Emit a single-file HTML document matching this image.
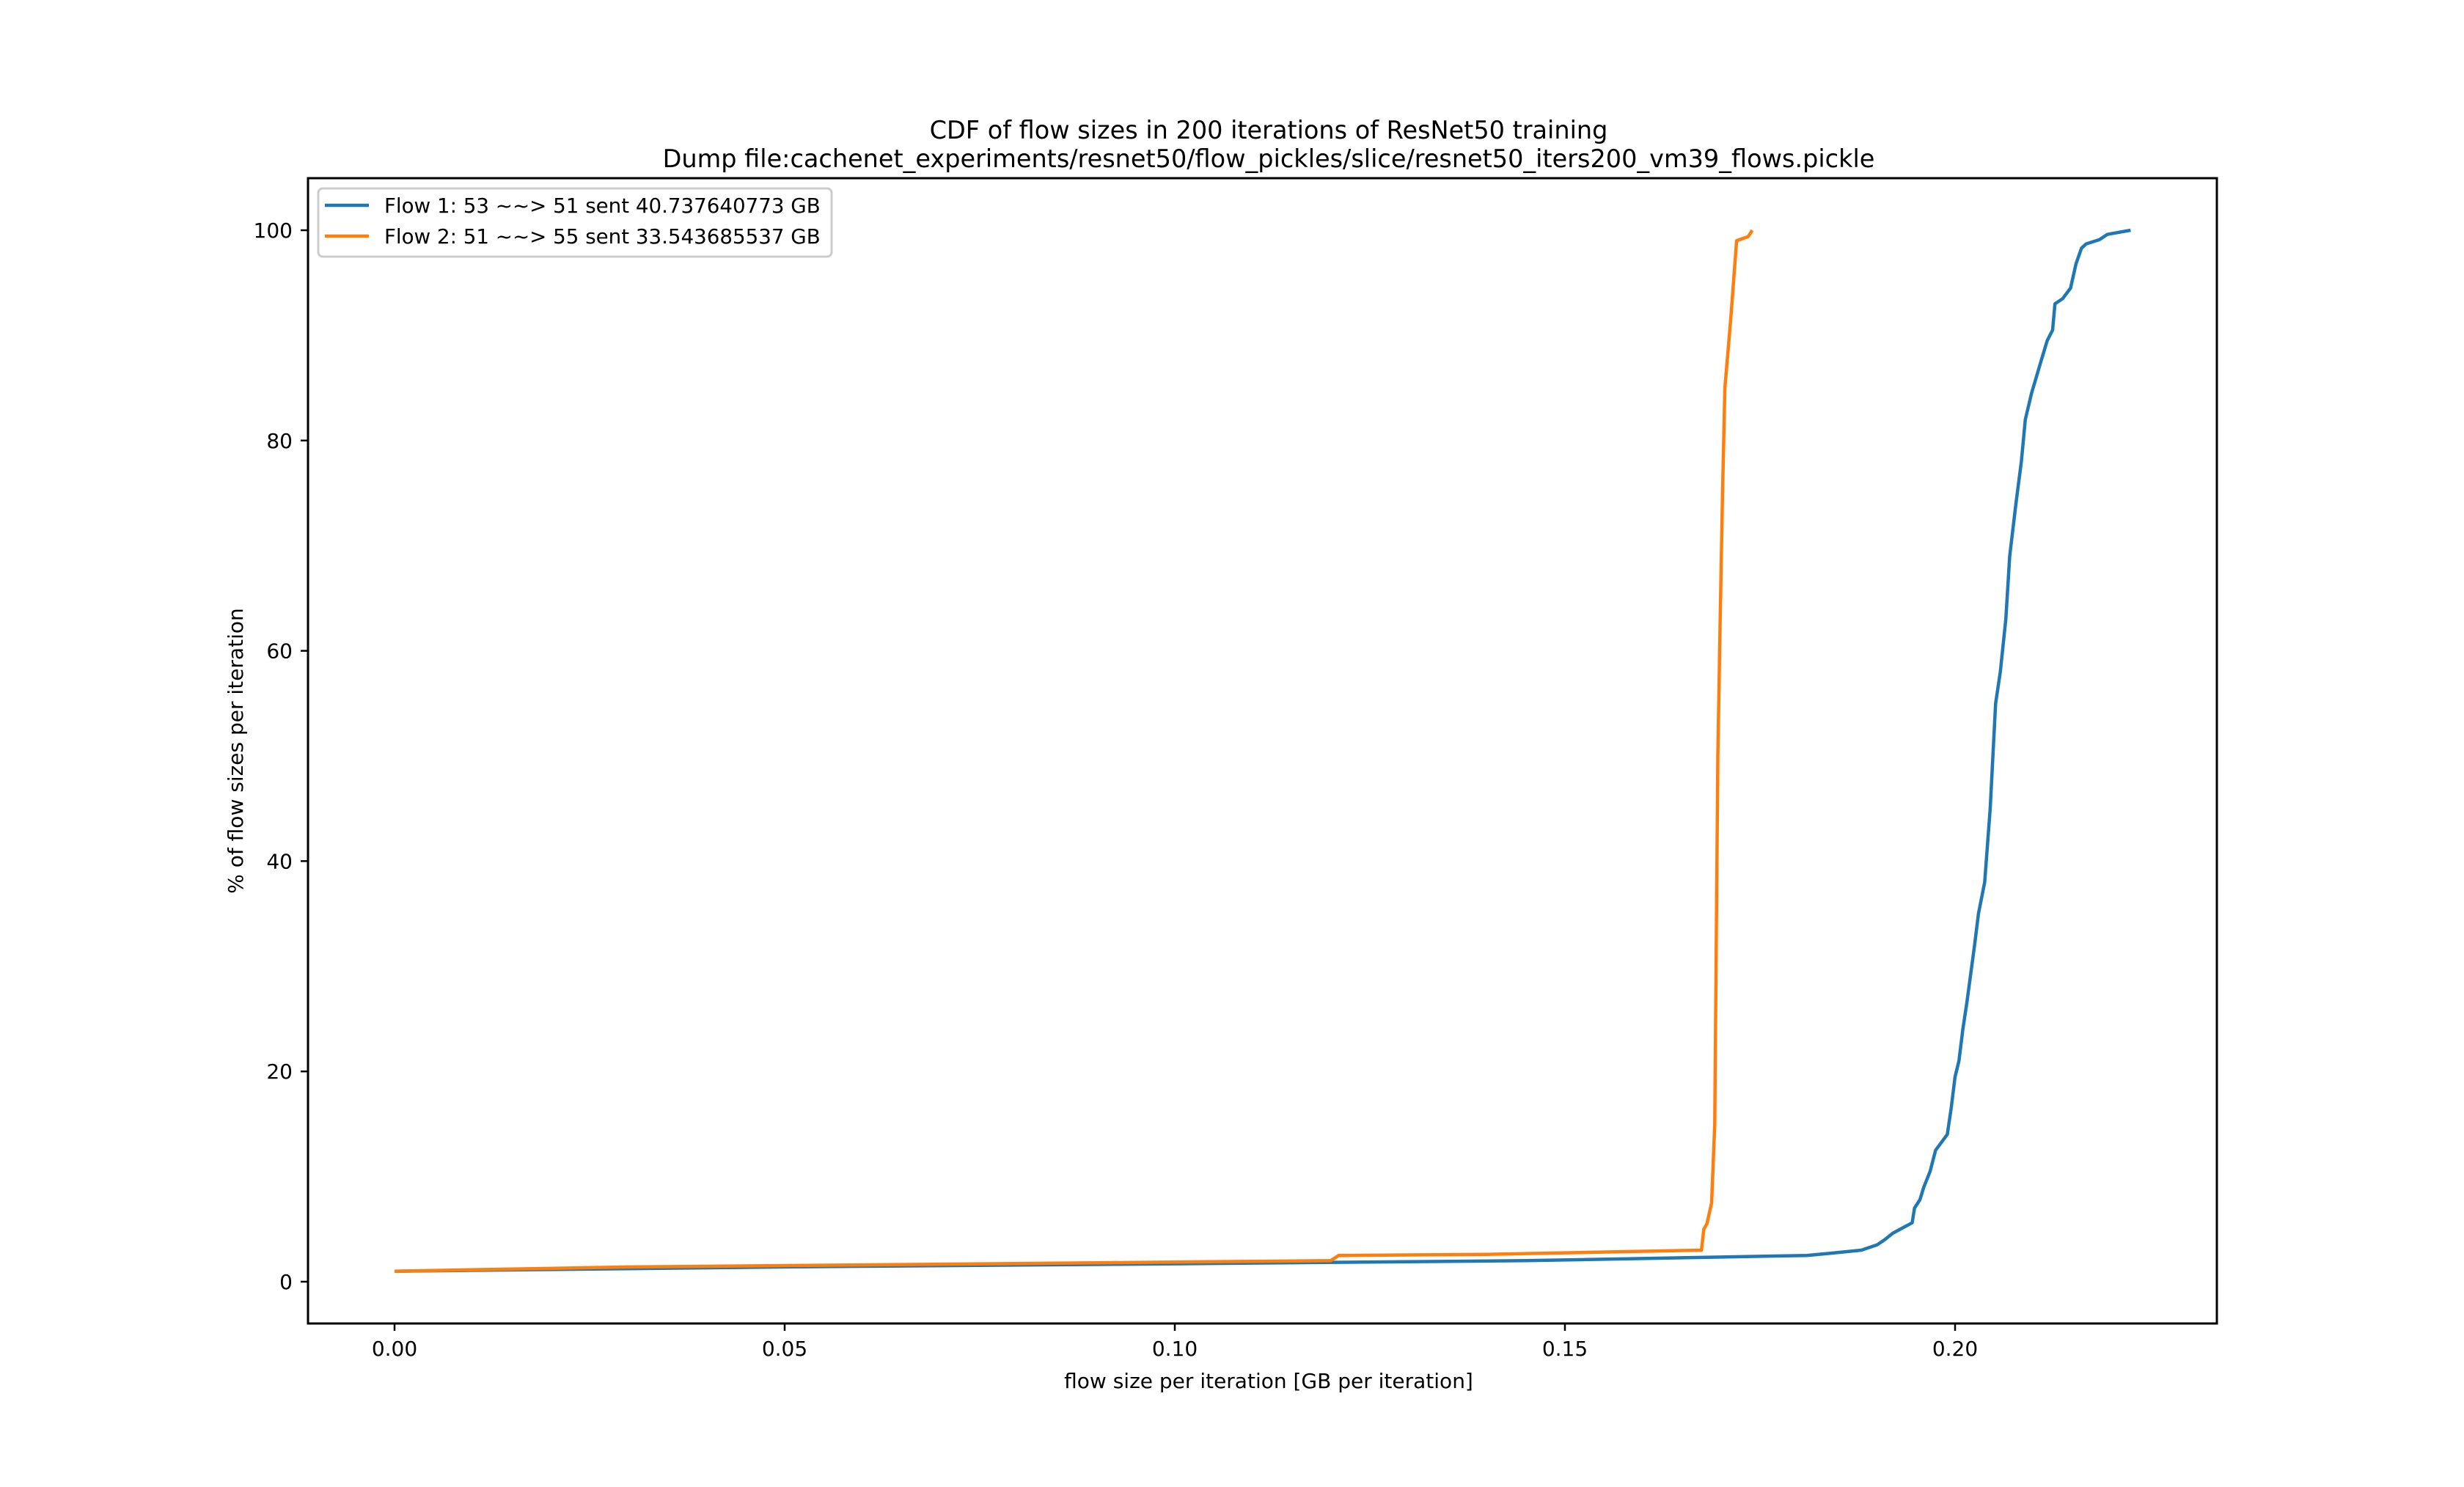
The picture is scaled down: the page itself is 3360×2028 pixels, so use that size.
<!DOCTYPE html>
<html><head><meta charset="utf-8"><style>
html,body{margin:0;padding:0;background:#fff;}
svg{display:block;font-family:"DejaVu Sans","Liberation Sans",sans-serif;}
</style></head><body>
<svg id="chart" width="3360" height="2028" viewBox="0 0 3360 2028" xmlns="http://www.w3.org/2000/svg">
<rect width="3360" height="2028" fill="#fff"/>
<text x="1730" y="189" font-size="33.5" text-anchor="middle">CDF of flow sizes in 200 iterations of ResNet50 training</text>
<text x="1730" y="228" font-size="33.5" text-anchor="middle">Dump file:cachenet_experiments/resnet50/flow_pickles/slice/resnet50_iters200_vm39_flows.pickle</text>
<g id="plot"></g>
<rect x="420" y="243" width="2603" height="1562" fill="none" stroke="#000" stroke-width="3"/>
<g>
<rect x="434" y="257" width="700" height="93" rx="6" fill="#fff" fill-opacity="0.8" stroke="#ccc" stroke-width="3"/>
<line x1="443" y1="280" x2="503" y2="280" stroke="#1f77b4" stroke-width="4.5"/>
<text x="524" y="290" font-size="27.7">Flow 1: 53 ~~&gt; 51 sent 40.737640773 GB</text>
<line x1="443" y1="322" x2="503" y2="322" stroke="#ff7f0e" stroke-width="4.5"/>
<text x="524" y="332" font-size="27.7">Flow 2: 51 ~~&gt; 55 sent 33.543685537 GB</text>
</g>
<text x="1730" y="1893" font-size="28" text-anchor="middle">flow size per iteration [GB per iteration]</text>
<text x="0" y="0" font-size="28" text-anchor="middle" transform="translate(331,1024) rotate(-90)">% of flow sizes per iteration</text>
</svg>
<script>
const xTicks = [0, 0.05, 0.10, 0.15, 0.20];
const xTickLabels = ["0.00", "0.05", "0.10", "0.15", "0.20"];
const yTicks = [0, 20, 40, 60, 80, 100];
const yTickLabels = ["0", "20", "40", "60", "80", "100"];
const flow1X = [0, 0.05, 0.10, 0.145, 0.181, 0.184, 0.188, 0.190, 0.191, 0.192, 0.1935, 0.1945, 0.1948, 0.1955, 0.196, 0.1968, 0.1975, 0.1985, 0.199, 0.1995, 0.2, 0.2005, 0.201, 0.2015, 0.2025, 0.203, 0.2038, 0.2045, 0.2052, 0.2058, 0.2065, 0.207, 0.2078, 0.2085, 0.209, 0.2098, 0.2108, 0.2118, 0.2125, 0.2128, 0.2138, 0.2148, 0.2155, 0.2162, 0.2168, 0.2185, 0.2195, 0.2225];
const flow1Y = [1, 1.4, 1.7, 2.0, 2.5, 2.7, 3.0, 3.5, 4.0, 4.6, 5.2, 5.6, 7.0, 7.8, 9.0, 10.5, 12.5, 13.5, 14.0, 16.5, 19.5, 21, 24, 26.5, 32, 35, 38, 45, 55, 58, 63, 69, 74, 78, 82, 84.5, 87, 89.5, 90.5, 93, 93.5, 94.5, 96.8, 98.3, 98.7, 99.1, 99.6, 100];
const flow2X = [0, 0.03, 0.06, 0.09, 0.12, 0.121, 0.14, 0.1675, 0.1678, 0.1682, 0.1688, 0.1692, 0.1696, 0.1699, 0.1702, 0.1705, 0.1709, 0.1713, 0.1716, 0.172, 0.1735, 0.174];
const flow2Y = [1, 1.4, 1.6, 1.8, 2.0, 2.5, 2.6, 3.0, 5.0, 5.5, 7.5, 15, 50, 63, 75, 85, 88.5, 92, 95, 99, 99.4, 100];

const X0 = 538, XPER = 10640;
const Y0 = 1748, YPER = 14.34;
function xs(v){ return X0 + v * XPER; }
function ys(v){ return Y0 - v * YPER; }
const NS = "http://www.w3.org/2000/svg";
const svg = document.getElementById('chart');
const plot = document.getElementById('plot');

xTicks.forEach((t, i) => {
  const ln = document.createElementNS(NS, 'line');
  
  
  ln.setAttribute('x1', xs(t)); ln.setAttribute('x2', xs(t));
  ln.setAttribute('y1', 1805); ln.setAttribute('y2', 1815);
  ln.setAttribute('stroke', '#000'); ln.setAttribute('stroke-width', '2.5');
  svg.appendChild(ln);
  const tx = document.createElementNS(NS, 'text');
  
  
  tx.setAttribute('x', xs(t)); tx.setAttribute('y', 1849);
  tx.setAttribute('font-size', '28'); tx.setAttribute('text-anchor', 'middle');
  tx.textContent = xTickLabels[i];
  svg.appendChild(tx);
});
yTicks.forEach((t, i) => {
  const ln = document.createElementNS(NS, 'line');
  
  
  ln.setAttribute('x1', 410); ln.setAttribute('x2', 420);
  ln.setAttribute('y1', ys(t)); ln.setAttribute('y2', ys(t));
  ln.setAttribute('stroke', '#000'); ln.setAttribute('stroke-width', '2.5');
  svg.appendChild(ln);
  const tx = document.createElementNS(NS, 'text');
  
  
  tx.setAttribute('x', 399); tx.setAttribute('y', ys(t) + 10);
  tx.setAttribute('font-size', '28'); tx.setAttribute('text-anchor', 'end');
  tx.textContent = yTickLabels[i];
  svg.appendChild(tx);
});
function drawLine(xa, ya, color, name){
  const p = document.createElementNS(NS, 'polyline');
  
  
  p.setAttribute('points', xa.map((x, i) => xs(x).toFixed(1) + ',' + ys(ya[i]).toFixed(1)).join(' '));
  p.setAttribute('fill', 'none'); p.setAttribute('stroke', color);
  p.setAttribute('stroke-width', '4.5'); p.setAttribute('stroke-linejoin', 'round');
  plot.appendChild(p);
}
drawLine(flow1X, flow1Y, '#1f77b4', 'flow1-line');
drawLine(flow2X, flow2Y, '#ff7f0e', 'flow2-line');
</script>
</body></html>
